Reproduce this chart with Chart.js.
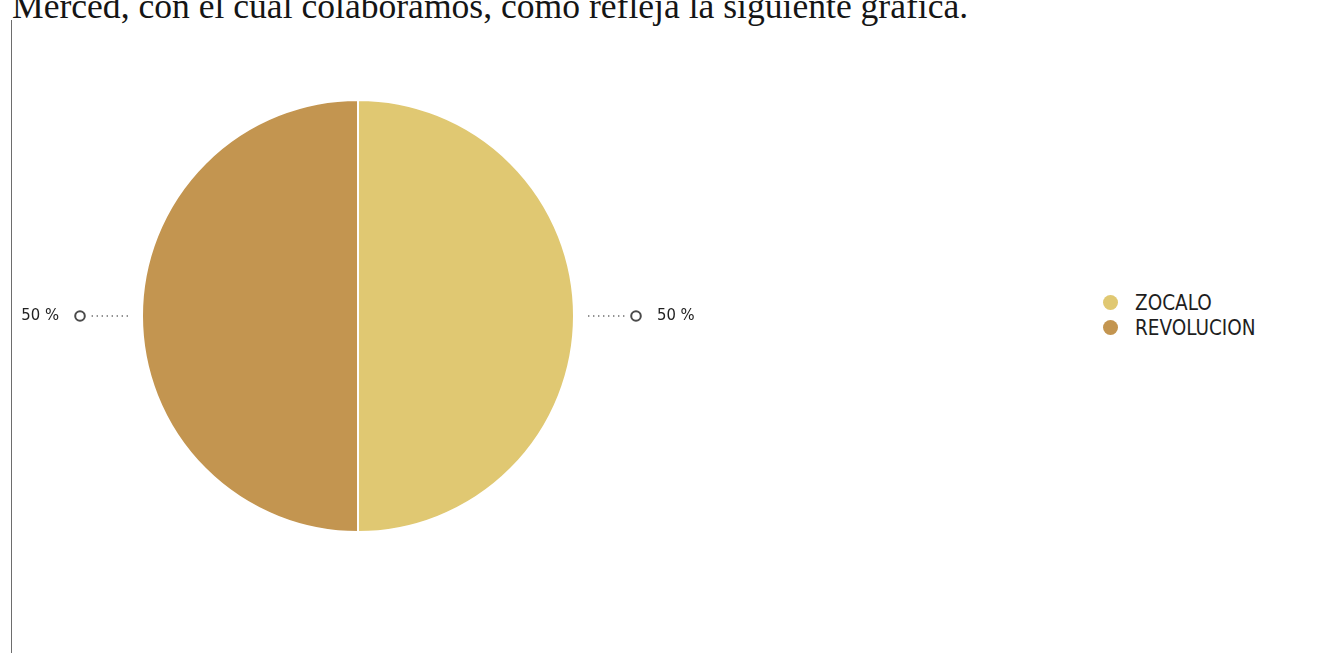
<!DOCTYPE html>
<html>
<head>
<meta charset="utf-8">
<script src="https://cdn.jsdelivr.net/npm/chart.js"></script>
<style>
  html, body { margin: 0; padding: 0; background: #fff; overflow: hidden; }
  body { width: 1322px; height: 653px; position: relative; }
  .intro {
    position: absolute; left: 12px; top: -11px; white-space: nowrap;
    font-family: "Liberation Serif", "DejaVu Serif", serif; font-size: 35.6px; line-height: 35.6px; color: #151515;
  }
  .rule { position: absolute; left: 11px; top: 20px; width: 1px; height: 640px; background: #6d6d6d; }
  .chart-box { position: absolute; left: 0; top: 0; width: 717px; height: 653px; }
  .legend { position: absolute; left: 1103px; top: 290px; font-family: "DejaVu Sans Condensed", "DejaVu Sans", sans-serif; font-size: 20.5px; color: #1e1e1e; }
  .legend div { display: flex; align-items: center; height: 25px; }
  .legend span.dot { width: 15px; height: 15px; border-radius: 50%; margin-right: 17px; display: inline-block; }
</style>
</head>
<body>
<div class="intro">Merced, con el cual colaboramos, como refleja la siguiente gráfica.</div>
<div class="rule"></div>
<div class="chart-box"><canvas id="pieChart"></canvas></div>
<div class="legend" id="legend"></div>
<script>
const categories = ['ZOCALO', 'REVOLUCION'];
const shares = [50, 50];
const colors = ['#e0c872', '#c39550'];

// percentage labels with a dotted leader and a small ring, outside each slice
const leaderLabels = {
  id: 'leaderLabels',
  afterDraw(chart) {
    const ctx = chart.ctx;
    const meta = chart.getDatasetMeta(0);
    const data = chart.data.datasets[0].data;
    const total = data.reduce((a, b) => a + b, 0);
    meta.data.forEach((arc, i) => {
      const p = arc.getProps(['x', 'y', 'startAngle', 'endAngle', 'outerRadius'], true);
      const mid = (p.startAngle + p.endAngle) / 2;
      const cos = Math.cos(mid), sin = Math.sin(mid);
      const r = p.outerRadius;
      const at = d => [p.x + cos * (r + d), p.y + sin * (r + d)];
      const [x1, y1] = at(14), [x2, y2] = at(54), [cx, cy] = at(62), [tx, ty] = at(83);

      ctx.save();
      ctx.strokeStyle = '#6f6f6f';
      ctx.lineWidth = 1.4;
      ctx.setLineDash([1.4, 3.6]);
      ctx.beginPath();
      ctx.moveTo(x1, y1);
      ctx.lineTo(x2, y2);
      ctx.stroke();
      ctx.setLineDash([]);
      ctx.strokeStyle = '#4a4a4a';
      ctx.lineWidth = 2;
      ctx.beginPath();
      ctx.arc(cx, cy, 4.8, 0, Math.PI * 2);
      ctx.stroke();
      ctx.fillStyle = '#222';
      ctx.font = '16.5px "DejaVu Sans Condensed", "DejaVu Sans", sans-serif';
      ctx.textBaseline = 'middle';
      ctx.textAlign = cos >= 0 ? 'left' : 'right';
      const pct = Math.round(data[i] / total * 100);
      ctx.fillText(pct + ' %', tx, ty);
      ctx.restore();
    });
  }
};

const chart = new Chart(document.getElementById('pieChart'), {
  type: 'pie',
  data: {
    labels: categories,
    datasets: [{ data: shares, backgroundColor: colors, borderColor: '#fff', borderWidth: 2 }]
  },
  options: {
    responsive: true,
    maintainAspectRatio: false,
    animation: false,
    layout: { padding: { left: 141, right: 142, top: 99, bottom: 120 } },
    plugins: { legend: { display: false }, tooltip: { enabled: false } }
  },
  plugins: [leaderLabels]
});

// legend built from the chart's own legend items
const items = chart.options.plugins.legend.labels.generateLabels(chart);
document.getElementById('legend').innerHTML = items.map(it =>
  `<div><span class="dot" style="background:${it.fillStyle}"></span>${it.text}</div>`
).join('');
</script>
</body>
</html>
